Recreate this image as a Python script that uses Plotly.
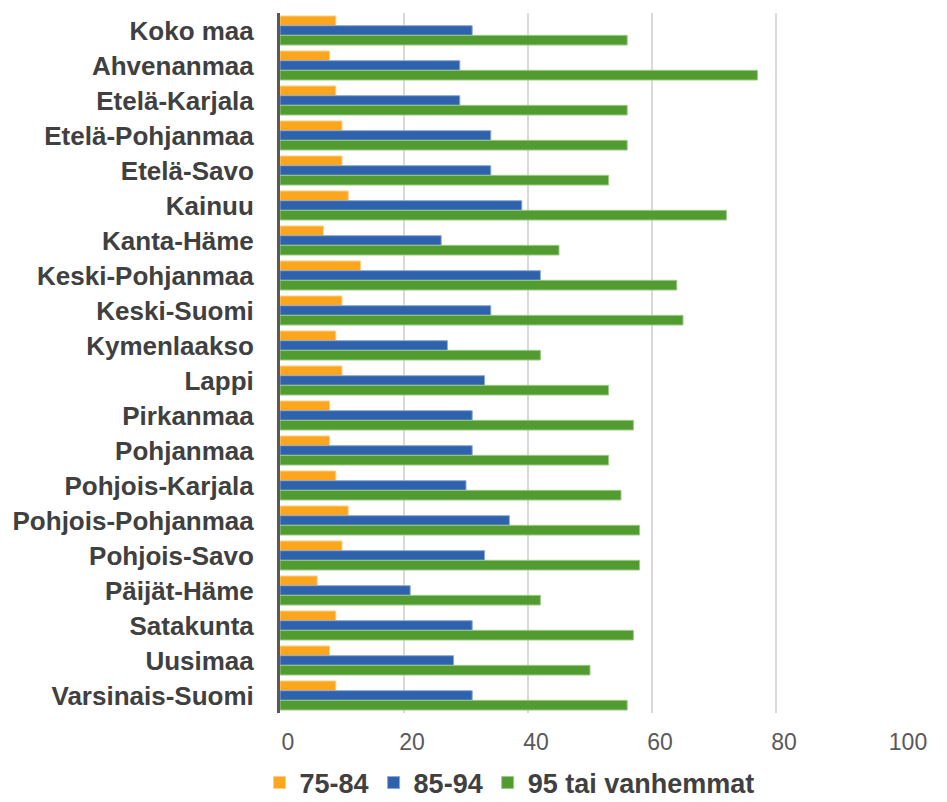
import plotly.graph_objects as go

regions = ["Koko maa", "Ahvenanmaa", "Etelä-Karjala", "Etelä-Pohjanmaa", "Etelä-Savo",
           "Kainuu", "Kanta-Häme", "Keski-Pohjanmaa", "Keski-Suomi", "Kymenlaakso",
           "Lappi", "Pirkanmaa", "Pohjanmaa", "Pohjois-Karjala", "Pohjois-Pohjanmaa",
           "Pohjois-Savo", "Päijät-Häme", "Satakunta", "Uusimaa", "Varsinais-Suomi"]
age_75_84 = [9, 8, 9, 10, 10, 11, 7, 13, 10, 9, 10, 8, 8, 9, 11, 10, 6, 9, 8, 9]
age_85_94 = [31, 29, 29, 34, 34, 39, 26, 42, 34, 27, 33, 31, 31, 30, 37, 33, 21, 31, 28, 31]
age_95 = [56, 77, 56, 56, 53, 72, 45, 64, 65, 42, 53, 57, 53, 55, 58, 58, 42, 57, 50, 56]
series_names = ["75-84", "85-94", "95 tai vanhemmat"]
x_ticks = [0, 20, 40, 60, 80, 100]

colors = ["#FBA61C", "#2F62AD", "#529B31"]
edges = ["#FDD08A", "#8EA9D8", "#9CCB85"]
FONT = "Liberation Sans, Arial, sans-serif"

fig = go.Figure()
for name, vals, c, e in zip(series_names, [age_75_84, age_85_94, age_95], colors, edges):
    fig.add_trace(go.Bar(
        y=regions, x=vals, name="<b>%s</b>" % name, orientation="h",
        marker=dict(color=c, line=dict(color=e, width=1)),
    ))

fig.update_layout(
    width=939, height=794,
    margin=dict(l=272, r=47, t=5, b=89, autoexpand=False),
    paper_bgcolor="white", plot_bgcolor="white",
    barmode="group", bargap=0.17, bargroupgap=0,
    font=dict(family=FONT, color="#404040"),
    legend=dict(orientation="h", x=-0.033, xanchor="left", y=-0.1, yanchor="middle",
                font=dict(size=27, color="#404040", family=FONT),
                traceorder="normal", itemwidth=30, tracegroupgap=0),
    showlegend=True,
)
fig.update_xaxes(range=[0, 100], tickvals=x_ticks, showgrid=True, gridcolor="#D9D9D9",
                 gridwidth=2, zeroline=False, showline=False,
                 tickfont=dict(size=23, color="#595959", family=FONT),
                 ticklabelshift=8, ticklabelstandoff=13)
fig.update_yaxes(autorange="reversed", showline=True, linecolor="#595959", linewidth=3,
                 tickvals=regions, ticktext=["<b>%s</b>" % r for r in regions],
                 tickfont=dict(size=26, color="#404040", family=FONT),
                 ticklabelstandoff=18, showgrid=False)

fig.write_html("out.html")
